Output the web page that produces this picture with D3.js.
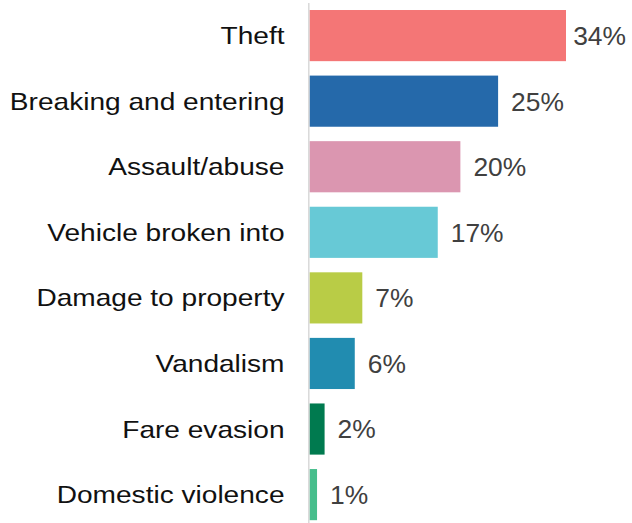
<!DOCTYPE html>
<html>
<head>
<meta charset="utf-8">
<script src="https://cdn.jsdelivr.net/npm/d3@7"></script>
<style>
  body { margin: 0; background: #fff; }
  svg { display: block; font-family: "Liberation Sans", Arial, sans-serif; }
</style>
</head>
<body>
<svg id="chart" width="632" height="523"></svg>
<script>
'use strict';

var categories = ['Theft', 'Breaking and entering', 'Assault/abuse', 'Vehicle broken into',
  'Damage to property', 'Vandalism', 'Fare evasion', 'Domestic violence'];
var values = [34, 25, 20, 17, 7, 6, 2, 1];
var colors = ['#f47676', '#2569aa', '#db96b0', '#67c9d6', '#b9cc46', '#218cb0', '#007a4f', '#47be8c'];

var svg = d3.select('#chart'),
  width = +svg.attr('width'),
  height = +svg.attr('height');

var x = d3.scaleLinear()
  .domain([0, 34])
  .range([309.5, 566]);

var y = d3.scaleBand()
  .domain(categories)
  .range([2.8, 527.4])
  .paddingInner(0.22)
  .paddingOuter(0.11);

// bars
svg.append('g')
  .selectAll('rect')
  .data(values)
  .enter().append('rect')
  .attr('x', x(0))
  .attr('y', function(d, i) { return y(categories[i]); })
  .attr('width', function(d) { return x(d) - x(0); })
  .attr('height', y.bandwidth())
  .attr('fill', function(d, i) { return colors[i]; });

// vertical axis line
svg.append('line')
  .attr('x1', 308.8).attr('x2', 308.8)
  .attr('y1', 3).attr('y2', height)
  .attr('stroke', '#d9d9d9')
  .attr('stroke-width', 1.5);

// category labels (slightly wide type)
svg.append('g')
  .selectAll('g')
  .data(categories)
  .enter().append('g')
  .attr('transform', function(d) {
    return 'translate(284.5,' + (y(d) + y.bandwidth() / 2 + 8.5) + ') scale(1.18,1)';
  })
  .append('text')
  .attr('text-anchor', 'end')
  .attr('font-size', 23.8)
  .attr('fill', '#111')
  .text(function(d) { return d; });

// value labels
svg.append('g')
  .selectAll('text')
  .data(values)
  .enter().append('text')
  .attr('y', function(d, i) { return y(categories[i]) + y.bandwidth() / 2 + 9.4; })
  .attr('font-size', 26.4)
  .attr('fill', '#404040')
  .text(function(d) { return d + '%'; })
  .attr('x', function(d) {
    var w = this.getComputedTextLength();
    return Math.min(x(d) + 13, width - 6 - w);
  });
</script>
</body>
</html>
